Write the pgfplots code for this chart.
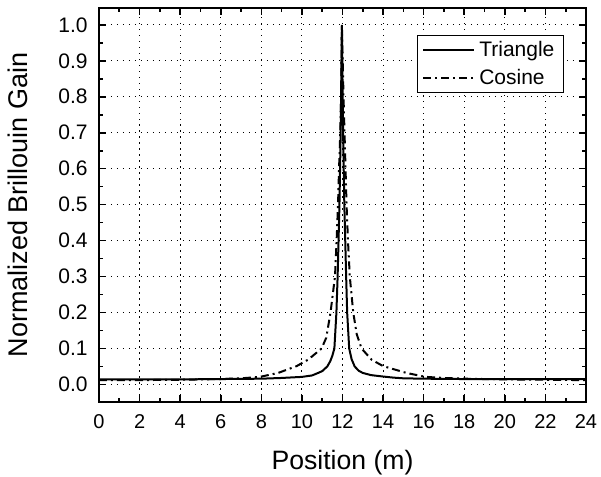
\documentclass[border=0pt]{standalone}
\usepackage{pgfplots}
\pgfplotsset{compat=1.18}
\usepackage{fontspec}
\setmainfont{Liberation Sans}
\begin{document}
\begin{tikzpicture}
\useasboundingbox (0,0) rectangle (300.5pt,238.5pt);
\begin{axis}[
  at={(49.5pt,37.65pt)}, anchor=south west,
  scale only axis, width=243.5pt, height=196.7pt,
  xmin=0, xmax=24, ymin=-0.048, ymax=1.046,
  xtick={0,2,...,24}, minor x tick num=1,
  ytick={0,0.1,0.2,0.3,0.4,0.5,0.6,0.7,0.8,0.9,1.0}, minor y tick num=1,
  y tick label style={/pgf/number format/fixed, /pgf/number format/fixed zerofill, /pgf/number format/precision=1},
  /pgf/number format/assume math mode=true,
  tick align=inside, tickpos=both,
  major tick length=3.5pt, minor tick length=2pt,
  every tick/.style={black, line width=0.8pt},
  axis line style={line width=1pt},
  grid=major,
  major grid style={black, line width=0.5pt, dash pattern=on 0.6pt off 2.4pt},
  xticklabel style={font=\fontsize{10}{12}\selectfont, anchor=north, inner sep=0pt, yshift=-6.3pt},
  yticklabel style={font=\fontsize{10.5}{12}\selectfont, anchor=east, inner sep=0pt, xshift=-5.5pt},
  xlabel={Position (m)},
  ylabel={Normalized Brillouin Gain},
  xlabel style={font=\fontsize{13.3}{16}\selectfont, at={(axis description cs:0.5,-0.156)}, anchor=center},
  ylabel style={font=\fontsize{13.5}{16}\selectfont, at={(axis description cs:-0.166,0.5)}, anchor=center},
  legend style={at={(axis description cs:1,1)}, anchor=north east, xshift=-11pt, yshift=-13.35pt,
    draw=black, line width=0.6pt, font=\fontsize{10.5}{12}\selectfont,
    inner xsep=2.5pt, inner ysep=0.8pt, row sep=0.8pt, cells={anchor=west}},
  legend image code/.code={\draw[#1] (0pt,0pt) -- (25.6pt,0pt);},
]
\addplot[black, line width=1pt] coordinates {
(0,0.014) (2,0.014) (4,0.014) (6,0.015) (8,0.016) (9,0.018) (10,0.021) (10.5,0.025)
(10.8,0.032) (11.0,0.037) (11.25,0.05) (11.4,0.065) (11.5,0.08) (11.6,0.1) (11.7,0.2)
(11.76,0.3) (11.85,0.5) (11.91,0.7) (11.95,0.9) (11.97,1.0) (11.99,0.9) (12.03,0.7)
(12.09,0.5) (12.18,0.3) (12.23,0.2) (12.33,0.1) (12.45,0.07) (12.6,0.05) (12.8,0.038)
(13.0,0.032) (13.4,0.026) (13.84,0.023) (14.5,0.019) (15,0.017) (16,0.016) (18,0.015)
(20,0.015) (22,0.015) (24,0.015)};
\addlegendentry{Triangle}
\addplot[black, line width=1pt, dash pattern=on 4pt off 2pt on 1pt off 2pt] coordinates {
(0,0.012) (2,0.012) (4,0.013) (6,0.015) (7,0.017) (7.93,0.021) (8.83,0.032) (9.74,0.051)
(10.31,0.069) (10.97,0.1) (11.2,0.13) (11.41,0.2) (11.63,0.3) (11.71,0.4) (11.78,0.5)
(11.83,0.6) (11.89,0.7) (11.93,0.8) (11.97,1.0) (12.05,0.8) (12.1,0.7) (12.15,0.6)
(12.2,0.5) (12.27,0.4) (12.36,0.3) (12.53,0.2) (12.7,0.14) (12.94,0.1) (13.43,0.069)
(14.0,0.051) (15.15,0.032) (16.1,0.021) (17,0.018) (18,0.016) (20,0.014) (22,0.013) (24,0.012)};
\addlegendentry{Cosine}
\end{axis}
\end{tikzpicture}
\end{document}
